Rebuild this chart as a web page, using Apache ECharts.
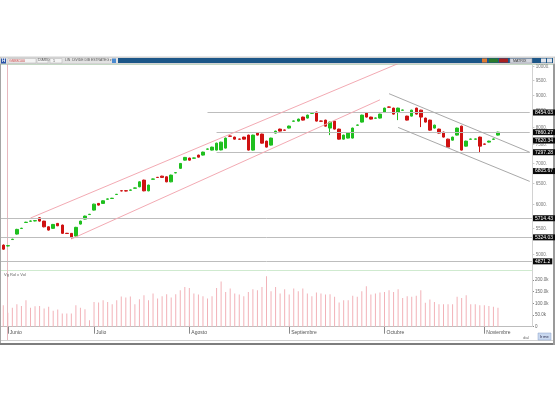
<!DOCTYPE html>
<html><head><meta charset="utf-8">
<script src="https://cdn.jsdelivr.net/npm/echarts@6/dist/echarts.min.js"></script>
<style>html,body{margin:0;padding:0;background:#fff}#c{width:555px;height:400px}</style>
</head><body><div id="c"></div>
<script>
const opens=[5173,5157,5281,5389,5501,5625,5652,5658,5724,5654,
5536,5504,5606,5571,5405,5403,5349,5592,5696,5793,
5889,6037,6037,6132,6148,6239,6327,6328,6339,6387,
6420,6581,6325,6603,6650,6679,6662,6539,6760,6874,
7087,7141,7137,7220,7220,7380,7355,7355,7360,7410,
7750,7718,7662,7718,7775,7355,7833,7804,7604,7492,
7833,7950,7924,7980,8185,8189,8312,8281,8431,8467,
8192,8219,7980,8189,7950,7660,7690,7690,8064,8159,
8435,8312,8278,8281,8467,8629,8593,8467,8525,8342,
8342,8593,8529,8281,8219,7980,7950,7862,7660,7632,
7775,8038,7464,7656,7658,7718,7524,7576,7656,7775];
const closes=[5096,5163,5287,5483,5507,5631,5656,5664,5654,5536,
5469,5585,5557,5403,5400,5323,5525,5654,5760,5799,
6021,5999,6096,6138,6154,6245,6323,6321,6345,6393,
6539,6325,6461,6609,6645,6648,6539,6704,6766,7001,
7159,7087,7145,7166,7301,7386,7437,7547,7575,7690,
7742,7660,7658,7660,7355,7775,7775,7547,7437,7690,
7891,7891,7916,8040,8193,8250,8219,8373,8439,8189,
8186,8038,8159,7950,7660,7775,7833,7980,8072,8373,
8312,8250,8284,8404,8593,8621,8404,8593,8533,8219,
8529,8404,8312,8159,7920,8068,7833,7718,7437,7718,
7980,7355,7604,7664,7666,7464,7516,7604,7664,7860.27];
const lows=[5085,5150,5275,5380,5495,5618,5645,5650,5645,5525,
5460,5495,5550,5395,5395,5300,5340,5585,5690,5788,
5880,5990,6030,6125,6140,6232,6315,6314,6332,6380,
6410,6315,6315,6596,6638,6640,6530,6530,6752,6865,
7078,7078,7130,7158,7210,7372,7345,7345,7350,7400,
7735,7650,7650,7650,7345,7345,7765,7537,7427,7482,
7823,7880,7908,7970,8176,8178,8208,8270,8422,8178,
8178,8028,7775,7940,7650,7650,7680,7680,8056,8148,
8300,8240,8270,8270,8455,8612,8392,8219,8516,8208,
8330,8392,8009,8148,7908,7970,7822,7707,7426,7622,
7765,7345,7454,7648,7650,7275,7508,7566,7648,7765];
const highs=[5185,5175,5295,5495,5515,5640,5665,5672,5735,5660,
5545,5595,5615,5580,5412,5410,5535,5662,5770,5806,
6030,6045,6105,6145,6162,6252,6335,6336,6352,6400,
6550,6592,6470,6616,6658,6688,6672,6715,6774,7012,
7170,7150,7152,7230,7312,7394,7447,7558,7586,7702,
7760,7728,7670,7728,7786,7786,7845,7815,7615,7700,
7902,7962,7932,8052,8202,8262,8324,8385,8448,8480,
8200,8230,8170,8200,7962,7786,7845,7992,8080,8385,
8447,8322,8292,8415,8605,8640,8605,8605,8542,8353,
8540,8605,8540,8292,8230,8080,7962,7873,7672,7728,
7992,8050,7615,7672,7674,7730,7532,7614,7672,7872];
const volumes=[92000,60000,81000,96000,89000,113000,81000,88000,89000,78000,
85000,68000,74000,57000,57000,57000,92000,81000,75000,28000,
106000,104000,113000,106000,96000,113000,129000,125000,129000,96000,
118000,135000,113000,142000,121000,130000,139000,125000,139000,156000,
170000,166000,142000,138000,130000,121000,130000,166000,194000,149000,
163000,142000,138000,130000,149000,160000,156000,170000,216000,152000,
170000,142000,160000,138000,163000,152000,163000,142000,130000,146000,
142000,138000,139000,128000,104000,113000,113000,132000,128000,152000,
173000,138000,142000,146000,149000,156000,149000,160000,123000,130000,
128000,132000,156000,102000,116000,106000,96000,96000,96000,96000,
128000,123000,135000,96000,96000,92000,92000,89000,85000,81000];
const emptySlots=7;
const monthIdx=[1,20,41,63,84,106];
const monthNames=['Junio','Julio','Agosto','Septiembre','Octubre','Noviembre'];
const priceTicks=[10000,9500,9000,8500,8000,7500,7000,6500,6000,5500,5000];
const partialLevels=[[45,8454.03],[47,7860.27],[47,7297.28]];
const fullLevels=[5714.43,5324.03,4871.2];
const boxLabels=[8454.03,7860.27,7620.34,7297.28,6805.67,5714.43,5324.03,4871.2];
const pinkTrend=[[6,5719,87,10133],[15,5291,83,8861]];
const grayTrend=[[85,9064,116,7297.28],[87,8000,116,6550]];

const FONT='Liberation Sans';
const HIDDEN={color:'rgba(0,0,0,0)',width:1,type:'solid'};
const nCat=opens.length+emptySlots;
const cats=[];for(let i=0;i<nCat;i++)cats.push(String(i));
const lastCat=nCat-1;
const candle=opens.map((o,i)=>[o,closes[i],lows[i],highs[i]]);

const ml=[];
priceTicks.forEach(v=>ml.push({yAxis:v,lineStyle:HIDDEN,label:{show:true,position:'end',distance:1,formatter:'- '+v+'.',color:'#777',fontSize:4.5,fontFamily:FONT}}));
partialLevels.forEach(p=>ml.push([{coord:[p[0],p[1]]},{coord:[lastCat,p[1]]}]));
fullLevels.forEach(v=>ml.push({yAxis:v}));
pinkTrend.forEach(t=>ml.push([{coord:[t[0],t[1]],lineStyle:{color:'#f3aab3',width:1,type:'solid'}},{coord:[t[2],t[3]]}]));
grayTrend.forEach(t=>ml.push([{coord:[t[0],t[1]],lineStyle:{color:'#a9a9a9',width:1,type:'solid'}},{coord:[t[2],t[3]]}]));
boxLabels.forEach(v=>ml.push({yAxis:v,lineStyle:HIDDEN,label:{show:true,position:'end',distance:1,formatter:String(v),color:'#fff',backgroundColor:'#0a0a0a',padding:[1,2,0,2],fontSize:5,fontFamily:FONT}}));

const chart=echarts.init(document.getElementById('c'),null,{renderer:'canvas'});
chart.setOption({
  animation:false,
  backgroundColor:'#fff',
  grid:[{left:1,right:23,top:54,bottom:129},{left:1,right:23,top:268.3,bottom:73.3}],
  xAxis:[
    {type:'category',gridIndex:0,data:cats,boundaryGap:true,axisLine:{show:false},axisTick:{show:false},axisLabel:{show:false},splitLine:{show:false}},
    {type:'category',gridIndex:1,data:cats,boundaryGap:true,
     axisLine:{show:true,lineStyle:{color:'#bdbdbd',width:1}},
     axisTick:{show:true,alignWithLabel:true,length:7,interval:(i)=>monthIdx.indexOf(i)>=0,lineStyle:{color:'#888'}},
     axisLabel:{show:true,interval:(i)=>monthIdx.indexOf(i)>=0,formatter:(v,i)=>monthNames[monthIdx.indexOf(Number(v))]||'',
       align:'left',padding:[0,0,0,2],margin:3,fontSize:5,color:'#555',fontFamily:FONT},splitLine:{show:false}}
  ],
  yAxis:[
    {type:'log',logBase:10,gridIndex:0,min:4700,max:10500,position:'right',axisLine:{show:false},axisTick:{show:false},axisLabel:{show:false},splitLine:{show:false}},
    {type:'value',gridIndex:1,min:0,max:250000,interval:50000,position:'right',
     axisLine:{show:false},axisTick:{show:true,length:2,lineStyle:{color:'#888'}},splitLine:{show:false},
     axisLabel:{showMaxLabel:false,margin:3,fontSize:4.5,color:'#666',fontFamily:FONT,formatter:(v)=>v===0?'0':(v/1000).toFixed(1)+'k'}}
  ],
  series:[
    {type:'candlestick',xAxisIndex:0,yAxisIndex:0,data:candle,barWidth:3,
     itemStyle:{color:'#1fbf1f',color0:'#cf1111',borderColor:'#1fbf1f',borderColor0:'#cf1111',borderWidth:1},
     markLine:{silent:true,symbol:['none','none'],animation:false,
       lineStyle:{color:'#bdbdbd',width:1,type:'solid'},label:{show:false},data:ml}},
    {type:'bar',xAxisIndex:1,yAxisIndex:1,data:volumes,barWidth:1,itemStyle:{color:'#f2b2b8'}}
  ],
  graphic:[
    {type:'rect',shape:{x:0.5,y:57.5,width:553,height:287},style:{fill:null,stroke:'#a5a5a5',lineWidth:1},z:1,silent:true},
    {type:'line',shape:{x1:532.5,y1:64,x2:532.5,y2:327},style:{stroke:'#d2d2d2',lineWidth:1},z:1,silent:true},
    {type:'line',shape:{x1:1,y1:270.5,x2:532,y2:270.5},style:{stroke:'#cfeacf',lineWidth:1},z:1,silent:true},
    {type:'line',shape:{x1:1,y1:64.5,x2:553,y2:64.5},style:{stroke:'#cfeacf',lineWidth:1},z:1,silent:true},
    {type:'line',shape:{x1:7.5,y1:64,x2:7.5,y2:341},style:{stroke:'#e6b8be',lineWidth:1},z:1,silent:true},
    {type:'line',shape:{x1:1,y1:340.5,x2:553,y2:340.5},style:{stroke:'#d0d0d0',lineWidth:1},z:1,silent:true},
    {type:'rect',shape:{x:0,y:343,width:555,height:2},style:{fill:'#7d7d7d'},z:1,silent:true},
    {type:'rect',shape:{x:553,y:57,width:2,height:288},style:{fill:'#9a9a9a'},z:1,silent:true},
    {type:'rect',shape:{x:0,y:57,width:555,height:7},style:{fill:'#e2e2e2',stroke:'#a0a0a0',lineWidth:0.5},z:10,silent:true},
    {type:'rect',shape:{x:118,y:58,width:435,height:5},style:{fill:'#1c5688'},z:11,silent:true},
    {type:'rect',shape:{x:1,y:58.5,width:5,height:5},style:{fill:'#2b55a8'},z:11,silent:true},
    {type:'text',x:2,y:58.6,style:{text:'H',fill:'#fff',fontSize:4.5,fontFamily:FONT,fontWeight:'bold'},z:12,silent:true},
    {type:'rect',shape:{x:8,y:58.5,width:28,height:4.5},style:{fill:'#f4f4f4',stroke:'#b0b0b0',lineWidth:0.5},z:11,silent:true},
    {type:'text',x:9,y:59,style:{text:'GSBS100',fill:'#c03030',fontSize:3.6,fontFamily:FONT},z:12,silent:true},
    {type:'rect',shape:{x:37,y:58.5,width:11,height:4.5},style:{fill:'#f4f4f4',stroke:'#b0b0b0',lineWidth:0.5},z:11,silent:true},
    {type:'text',x:38,y:59,style:{text:'DIARIO',fill:'#555',fontSize:3.4,fontFamily:FONT},z:12,silent:true},
    {type:'rect',shape:{x:50,y:58.5,width:12,height:4.5},style:{fill:'#f4f4f4',stroke:'#b0b0b0',lineWidth:0.5},z:11,silent:true},
    {type:'text',x:53,y:59,style:{text:'1',fill:'#555',fontSize:3.6,fontFamily:FONT},z:12,silent:true},
    {type:'text',x:65,y:59,style:{text:'LIN  DIVIDE DIB ESTRATEG ▾',fill:'#555',fontSize:3.4,fontFamily:FONT},z:12,silent:true},
    {type:'rect',shape:{x:112,y:58.5,width:4,height:4.5},style:{fill:'#4a8ad0'},z:11,silent:true},
    {type:'rect',shape:{x:482,y:58.5,width:5,height:4},style:{fill:'#e07a30'},z:12,silent:true},
    {type:'rect',shape:{x:489,y:58.5,width:9,height:4},style:{fill:'#2a7a2a'},z:12,silent:true},
    {type:'rect',shape:{x:499,y:58.5,width:9,height:4},style:{fill:'#a82020'},z:12,silent:true},
    {type:'rect',shape:{x:510,y:58.5,width:22,height:4.5},style:{fill:'#d3d6de',stroke:'#8890a0',lineWidth:0.5},z:12,silent:true},
    {type:'text',x:513,y:59,style:{text:'MATRIX',fill:'#333',fontSize:3.6,fontFamily:FONT},z:13,silent:true},
    {type:'rect',shape:{x:541,y:58.5,width:5,height:4},style:{fill:'#dfe3ea'},z:12,silent:true},
    {type:'rect',shape:{x:547,y:58.5,width:5,height:4},style:{fill:'#dfe3ea'},z:12,silent:true},
    {type:'text',x:4,y:273,style:{text:'Vg Rol x Vol',fill:'#666',fontSize:4,fontFamily:FONT},z:12,silent:true},
    {type:'text',x:523,y:336,style:{text:'dial',fill:'#777',fontSize:4,fontFamily:FONT},z:12,silent:true},
    {type:'rect',shape:{x:538,y:333,width:13,height:7},style:{fill:'#c9d8ef',stroke:'#8aa0c8',lineWidth:0.5},z:12,silent:true},
    {type:'text',x:540,y:335,style:{text:'Ir me',fill:'#224',fontSize:3.8,fontFamily:FONT},z:13,silent:true}
  ]
});
</script></body></html>
